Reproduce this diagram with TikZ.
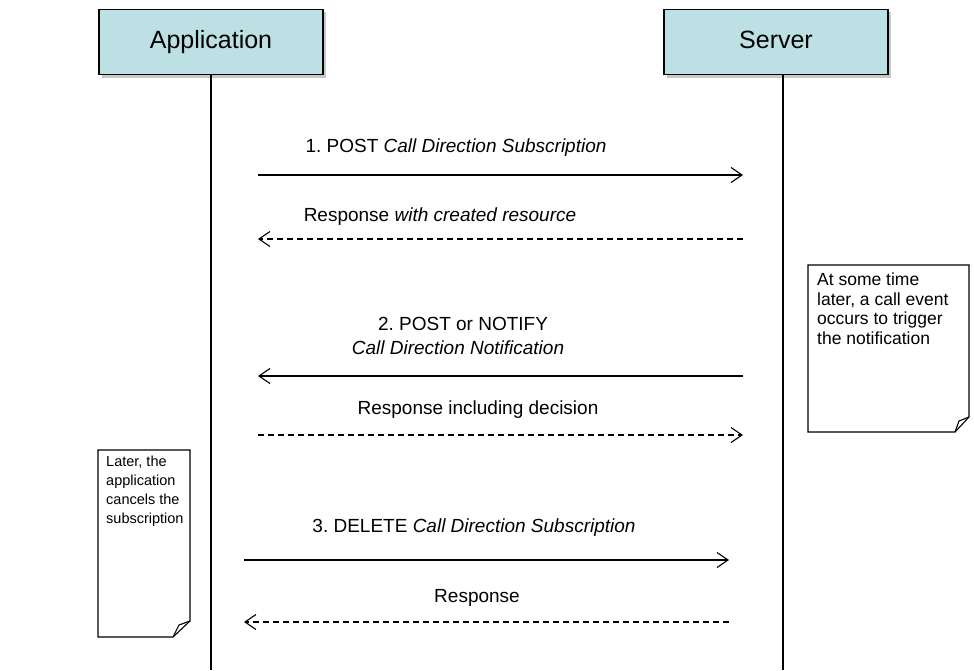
\documentclass[tikz,border=0pt]{standalone}
\usepackage{fontspec}
\setmainfont{Liberation Sans}
\usetikzlibrary{arrows.meta}
\definecolor{boxfill}{HTML}{BCE0E3}
\definecolor{shadowgray}{HTML}{C8C8C8}
\frenchspacing
\begin{document}
\begin{tikzpicture}[x=1pt,y=-1pt,
  actor/.style={draw=black, line width=1.3pt, fill=boxfill, minimum width=224pt, minimum height=65pt, inner sep=0pt, text height=18pt, text depth=5pt, font=\fontsize{25}{30}\selectfont},
  lifeline/.style={line width=2.6pt, black},
  msg/.style={line width=1.1pt, -{Straight Barb[length=11pt,width=15pt,line width=1.1pt]}},
  reply/.style={msg, dash pattern=on 6pt off 4pt},
  lbl/.style={inner sep=0pt, font=\fontsize{19}{23}\selectfont},
  notebox/.style={draw=black, line width=1.1pt, fill=white, line join=miter},
  notetextR/.style={inner sep=0pt, anchor=north west, align=left, font=\fontsize{17.5}{19.5}\selectfont},
  notetextL/.style={inner sep=0pt, anchor=north west, align=left, font=\fontsize{14.5}{19}\selectfont}
]
\useasboundingbox (0,0) rectangle (974,670);
% shadows of boxes
\fill[shadowgray] (102,12) rectangle (326,78);
\fill[shadowgray] (667,12) rectangle (891,78);
% actors
\node[actor] (app) at (211,42) {Application};
\node[actor] (srv) at (776,42) {Server};
% lifelines
\coordinate (appTop) at (211,74.5);
\coordinate (appBot) at (211,670);
\coordinate (srvTop) at (783,74.5);
\coordinate (srvBot) at (783,670);
\draw[lifeline] (appTop) -- (appBot);
\draw[lifeline] (srvTop) -- (srvBot);
% message endpoints
\coordinate (m1a) at (258,175); \coordinate (m1b) at (743,175);
\coordinate (r1a) at (743,239); \coordinate (r1b) at (258,239);
\coordinate (m2a) at (743,376); \coordinate (m2b) at (258,376);
\coordinate (r2a) at (258,435); \coordinate (r2b) at (743,435);
\coordinate (m3a) at (244,560); \coordinate (m3b) at (729,560);
\coordinate (r3a) at (729,622); \coordinate (r3b) at (244,622);
\draw[msg] (m1a) -- (m1b);
\draw[reply] (r1a) -- (r1b);
\draw[msg] (m2a) -- (m2b);
\draw[reply] (r2a) -- (r2b);
\draw[msg] (m3a) -- (m3b);
\draw[reply] (r3a) -- (r3b);
% labels
\node[lbl] (l1) at (456,148) {1. POST \textit{Call Direction Subscription}};
\node[lbl] (l1r) at (440,217) {Response \textit{with created resource}};
\node[lbl] (l2a) at (463,324) {2. POST or NOTIFY};
\node[lbl] (l2b) at (458,348) {\textit{Call Direction Notification}};
\node[lbl] (l2r) at (478,410) {Response including decision};
\node[lbl] (l3) at (474,528) {3. DELETE \textit{Call Direction Subscription}};
\node[lbl] (l3r) at (477,598) {Response};
% right note
\draw[notebox] (808,265) -- (969,265) -- (969,417) -- (955,432) -- (808,432) -- cycle;
\draw[line width=1.1pt, line join=miter] (969,417) -- (959,421) -- (955,432);
\node[notetextR] (noteR) at (817,273) {At some time\\later, a call event\\occurs to trigger\\the notification};
% left note
\draw[notebox] (98,450) -- (190,450) -- (190,621) -- (173,637) -- (98,637) -- cycle;
\draw[line width=1.1pt, line join=miter] (190,621) -- (179,625) -- (173,637);
\node[notetextL] (noteL) at (106,456) {Later, the\\application\\cancels the\\subscription};
\end{tikzpicture}
\end{document}
